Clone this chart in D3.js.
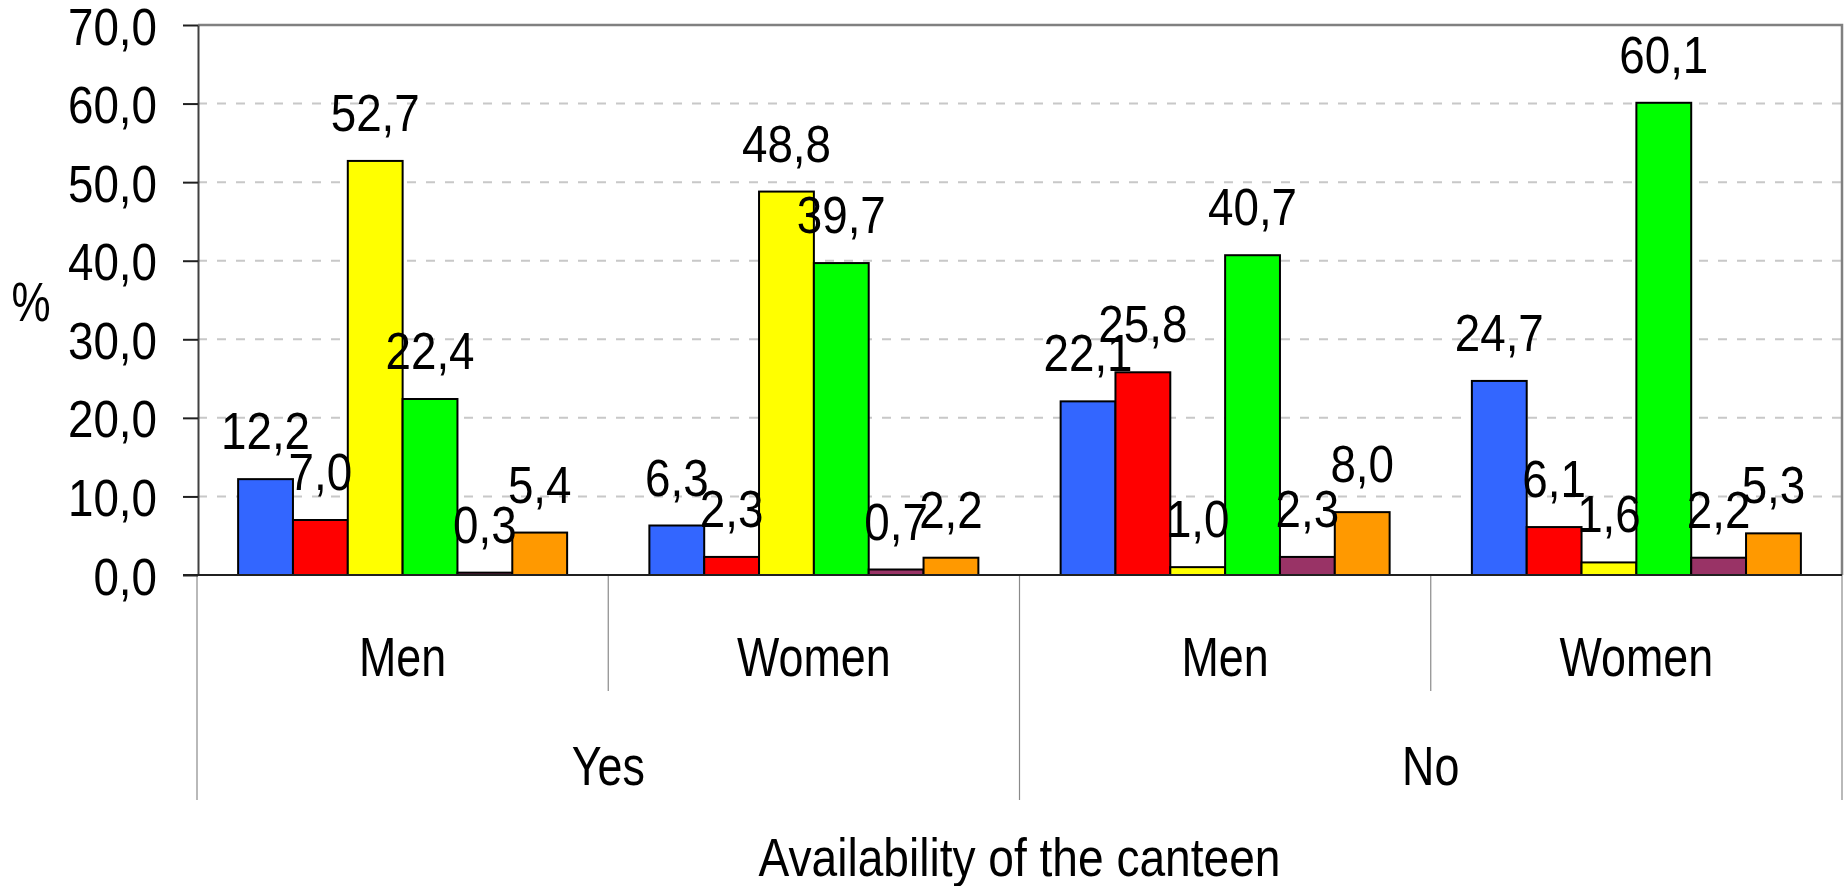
<!DOCTYPE html>
<html>
<head>
<meta charset="utf-8">
<script src="https://cdn.jsdelivr.net/npm/d3@7"></script>
<style>
    body { margin: 0; background: #fff; }
    text { font-family: "Liberation Sans", Arial, sans-serif; fill: #000; }
</style>
</head>
<body>
<div id="chart"></div>
<script>
/*
 *  Data
 */
const availability = ['Yes', 'No'];
const sexes = ['Men', 'Women'];
const yTicks = [0, 10, 20, 30, 40, 50, 60, 70];
const seriesColors = ['#3366ff', '#ff0000', '#ffff00', '#00ff00', '#993366', '#ff9900'];

// one array per coloured series, in group order Yes-Men, Yes-Women, No-Men, No-Women
const blueValues   = [12.2, 6.3, 22.1, 24.7];
const redValues    = [7.0, 2.3, 25.8, 6.1];
const yellowValues = [52.7, 48.8, 1.0, 1.6];
const greenValues  = [22.4, 39.7, 40.7, 60.1];
const purpleValues = [0.3, 0.7, 2.3, 2.2];
const orangeValues = [5.4, 2.2, 8.0, 5.3];

const allSeries = [blueValues, redValues, yellowValues, greenValues, purpleValues, orangeValues];

showBarChart();

/*
 *  Draw chart
 */
function showBarChart() {
    const width = 1845;
    const height = 886;
    const left = 198, right = 1842, top = 25, bottom = 575;

    const fmt = d => d.toFixed(1).replace('.', ',');

    const svg = d3.select('#chart').append('svg')
        .attr('width', width)
        .attr('height', height);

    svg.append('rect').attr('width', width).attr('height', height).attr('fill', '#fff');

    // groups: Yes-Men, Yes-Women, No-Men, No-Women
    const groups = [];
    availability.forEach(a => sexes.forEach(s => groups.push({ a: a, s: s, key: a + '|' + s })));

    const xGroup = d3.scaleBand()
        .domain(groups.map(g => g.key))
        .range([197, right]);

    const bw = xGroup.bandwidth();
    const xBar = d3.scaleBand()
        .domain(d3.range(allSeries.length))
        .range([bw * 0.1, bw * 0.9]);

    const yScale = d3.scaleLinear()
        .domain([0, 70])
        .range([bottom, top]);

    // gridlines
    svg.append('g')
        .selectAll('line')
        .data(yTicks.filter(d => d > 0 && d < 70))
        .enter()
        .append('line')
        .attr('x1', left).attr('x2', right)
        .attr('y1', d => yScale(d)).attr('y2', d => yScale(d))
        .attr('stroke', '#c8c8c8')
        .attr('stroke-width', 2)
        .attr('stroke-dasharray', '9,10');

    // plot border top / right
    svg.append('path')
        .attr('d', `M${left},${top}H${right}V${bottom}`)
        .attr('fill', 'none')
        .attr('stroke', '#808080')
        .attr('stroke-width', 2.5);

    // category separators under axis
    const sepData = [
        { x: 197, y2: 800 },
        { x: xGroup(groups[1].key), y2: 691 },
        { x: xGroup(groups[2].key), y2: 800 },
        { x: xGroup(groups[3].key), y2: 691 },
        { x: right, y2: 800 }
    ];
    svg.append('g')
        .selectAll('line')
        .data(sepData)
        .enter()
        .append('line')
        .attr('x1', d => d.x).attr('x2', d => d.x)
        .attr('y1', bottom).attr('y2', d => d.y2)
        .attr('stroke', '#8a8a8a')
        .attr('stroke-width', 1.2);

    // bars
    const barData = [];
    allSeries.forEach((vals, si) => {
        vals.forEach((v, gi) => barData.push({ key: groups[gi].key, si: si, v: v }));
    });

    svg.append('g')
        .selectAll('rect')
        .data(barData)
        .enter()
        .append('rect')
        .attr('x', d => xGroup(d.key) + xBar(d.si))
        .attr('y', d => yScale(d.v))
        .attr('width', xBar.bandwidth())
        .attr('height', d => yScale(0) - yScale(d.v))
        .attr('fill', d => seriesColors[d.si])
        .attr('stroke', '#000')
        .attr('stroke-width', 2);

    // value labels
    svg.append('g')
        .selectAll('text')
        .data(barData)
        .enter()
        .append('text')
        .attr('transform', d => `translate(${xGroup(d.key) + xBar(d.si) + xBar.bandwidth() / 2},${yScale(d.v) - 30}) scale(0.88,1)`)
        .attr('text-anchor', 'middle')
        .attr('font-size', 52)
        .text(d => fmt(d.v));

    // y axis
    const yAxis = d3.axisLeft(yScale)
        .tickValues(yTicks)
        .tickSize(15)
        .tickSizeOuter(0)
        .tickPadding(26)
        .tickFormat(fmt);

    const yAxisGroup = svg.append('g')
        .attr('class', 'axis y-axis')
        .attr('transform', `translate(${left},0)`)
        .call(yAxis);

    yAxisGroup.select('.domain').attr('stroke', '#404040').attr('stroke-width', 2);
    yAxisGroup.selectAll('.tick line').attr('stroke', '#202020').attr('stroke-width', 2);
    yAxisGroup.selectAll('.tick text')
        .attr('font-size', 52)
        .attr('font-family', '"Liberation Sans", Arial, sans-serif')
        .attr('fill', '#000')
        .attr('dy', null)
        .attr('y', 19)
        .attr('x', -41 / 0.88)
        .attr('transform', 'scale(0.88,1)');

    // x baseline
    svg.append('line')
        .attr('x1', 183).attr('x2', right)
        .attr('y1', bottom).attr('y2', bottom)
        .attr('stroke', '#202020')
        .attr('stroke-width', 2);

    // sex labels
    svg.append('g')
        .selectAll('text')
        .data(groups)
        .enter()
        .append('text')
        .attr('transform', d => `translate(${xGroup(d.key) + bw / 2},676) scale(0.8,1)`)
        .attr('text-anchor', 'middle')
        .attr('font-size', 56)
        .text(d => d.s);

    // availability labels
    svg.append('g')
        .selectAll('text')
        .data(availability)
        .enter()
        .append('text')
        .attr('transform', d => `translate(${xGroup(d + '|' + sexes[0]) + bw},785) scale(0.8,1)`)
        .attr('text-anchor', 'middle')
        .attr('font-size', 56)
        .text(d => d);

    // axis titles
    svg.append('text')
        .attr('transform', `translate(${(197 + right) / 2},876) scale(0.87,1)`)
        .attr('text-anchor', 'middle')
        .attr('font-size', 53)
        .text('Availability of the canteen');

    svg.append('text')
        .attr('transform', 'translate(31,321) scale(0.8,1)')
        .attr('text-anchor', 'middle')
        .attr('font-size', 55)
        .text('%');
}
</script>
</body>
</html>
